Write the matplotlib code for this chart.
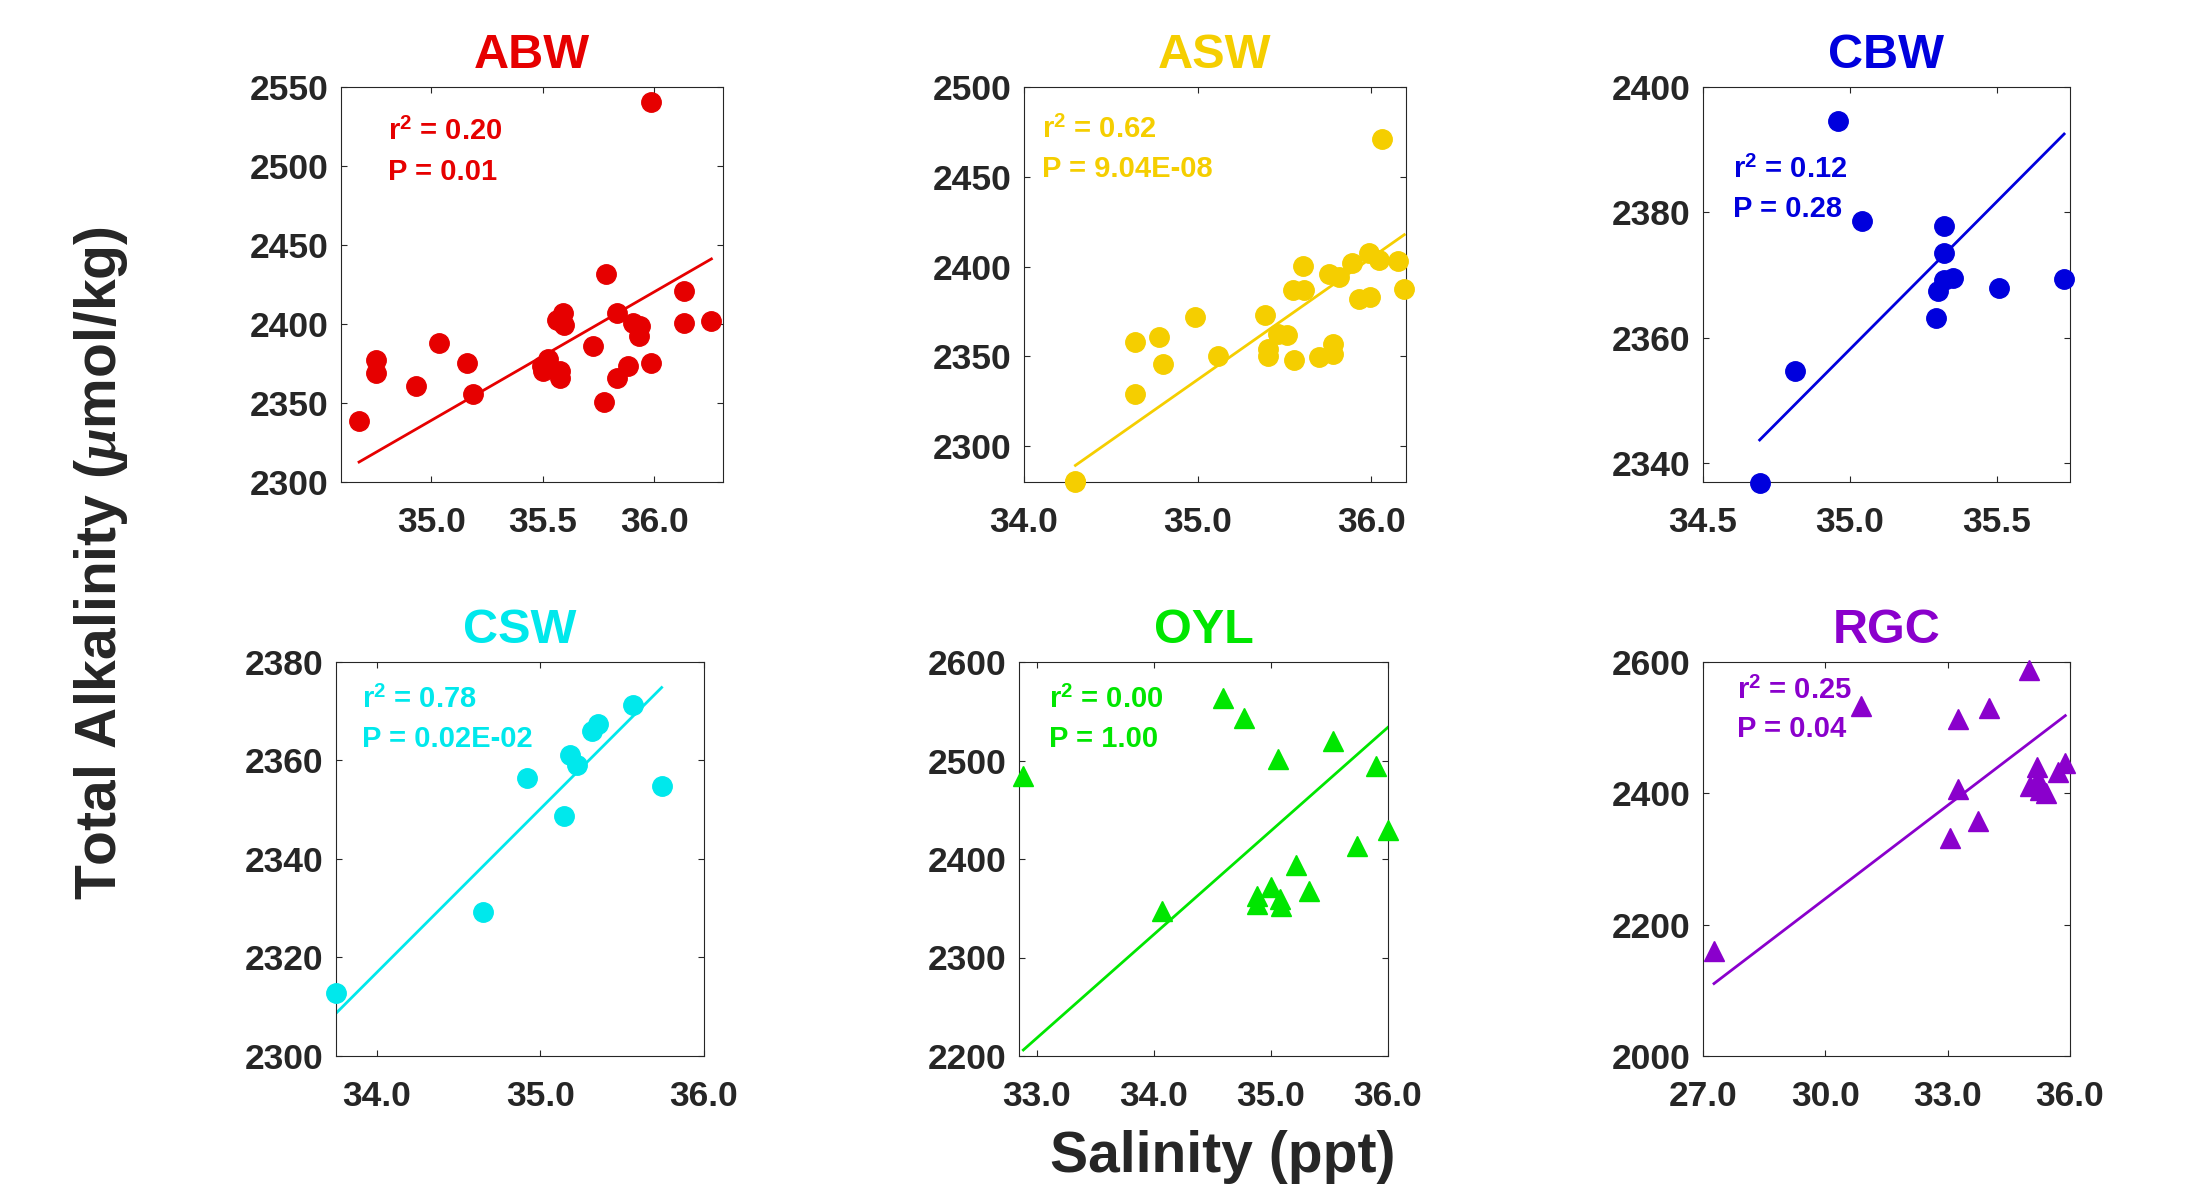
import numpy as np
import matplotlib
matplotlib.use("Agg")
import matplotlib.pyplot as plt

plt.rcParams['font.family'] = ['Liberation Sans', 'DejaVu Sans']
plt.rcParams['font.weight'] = 'bold'
plt.rcParams['mathtext.fontset'] = 'custom'
plt.rcParams['mathtext.rm'] = 'Liberation Sans:bold'
plt.rcParams['mathtext.bf'] = 'Liberation Sans:bold'
plt.rcParams['mathtext.it'] = 'Liberation Serif:italic'

# ---------------- data ----------------
names = ["ABW", "ASW", "CBW", "CSW", "OYL", "RGC"]
colors = ["#E60000", "#F5CE00", "#0000DD", "#00E8EC", "#00E600", "#8A00CC"]
markers = ["o", "o", "o", "o", "^", "^"]

abw_sal = [35.987, 35.782, 36.134, 36.134, 36.256, 35.833, 35.564, 35.589, 35.593, 35.903,
           35.934, 35.930, 35.723, 35.985, 35.880, 35.831, 35.773, 35.522, 35.496, 35.501,
           35.578, 35.578, 35.160, 35.187, 35.036, 34.930, 34.752, 34.752, 34.676]
abw_ta = [2540.2, 2431.7, 2420.9, 2400.6, 2401.9, 2406.8, 2402.7, 2406.8, 2399.6, 2400.6,
          2398.9, 2392.2, 2386.3, 2375.1, 2373.6, 2365.8, 2350.5, 2377.6, 2373.2, 2370.0,
          2370.0, 2365.8, 2375.3, 2355.6, 2388.0, 2360.9, 2377.0, 2368.9, 2338.5]

asw_sal = [36.060, 36.155, 36.190, 35.988, 36.046, 35.887, 35.927, 35.994, 35.758, 35.812,
           35.608, 35.547, 35.610, 35.388, 35.464, 35.514, 35.403, 35.407, 35.557, 35.697,
           35.781, 35.781, 34.987, 35.117, 34.775, 34.798, 34.637, 34.637, 34.296, 34.296]
asw_ta = [2471.0, 2403.2, 2387.7, 2407.8, 2403.9, 2401.9, 2381.7, 2383.2, 2395.7, 2394.4,
          2400.2, 2387.1, 2387.1, 2373.1, 2362.6, 2362.1, 2354.2, 2349.9, 2347.9, 2349.6,
          2356.8, 2351.4, 2372.0, 2350.1, 2360.6, 2345.8, 2357.8, 2328.8, 2279.9, 2280.8]

cbw_sal = [34.960, 35.042, 35.321, 35.321, 35.353, 35.321, 35.300, 35.292, 35.509, 35.730,
           34.812, 34.693]
cbw_ta = [2394.5, 2378.6, 2377.9, 2373.5, 2369.5, 2369.2, 2367.4, 2363.1, 2368.0, 2369.3,
          2354.7, 2336.9]

csw_sal = [35.563, 35.353, 35.316, 35.178, 35.224, 34.918, 35.741, 35.143, 34.651, 33.751]
csw_ta = [2371.3, 2367.5, 2365.9, 2361.2, 2359.1, 2356.4, 2354.8, 2348.7, 2329.2, 2312.8]

oyl_sal = [34.592, 34.772, 35.533, 35.057, 35.895, 32.887, 35.998, 35.739, 35.217, 35.325,
           35.003, 34.883, 34.883, 35.077, 35.083, 34.070]
oyl_ta = [2563.1, 2542.7, 2519.7, 2501.7, 2494.2, 2484.1, 2429.8, 2412.9, 2394.2, 2367.1,
          2371.5, 2362.0, 2354.6, 2359.3, 2352.5, 2346.8]

rgc_sal = [34.984, 30.885, 34.025, 33.246, 35.885, 35.189, 35.705, 35.213, 35.025, 35.254,
           35.418, 33.246, 33.754, 33.057, 27.270]
rgc_ta = [2587.8, 2533.0, 2530.5, 2512.7, 2446.7, 2440.6, 2433.0, 2421.3, 2411.2, 2405.1,
          2400.0, 2406.1, 2358.4, 2332.5, 2159.9]

salinity = [abw_sal, asw_sal, cbw_sal, csw_sal, oyl_sal, rgc_sal]
alkalinity = [abw_ta, asw_ta, cbw_ta, csw_ta, oyl_ta, rgc_ta]

fit_slope = [81.36, 67.84, 47.06, 33.22, 105.24, 47.36]
fit_intercept = [-508.6, -37.4, 711.05, 1187.5, -1254.9, 818.8]

r2_text = ["0.20", "0.62", "0.12", "0.78", "0.00", "0.25"]
p_text = ["0.01", "9.04E-08", "0.28", "0.02E-02", "1.00", "0.04"]

xlims = [(34.595, 36.308), (34.0, 36.2), (34.5, 35.75), (33.75, 36.0), (32.85, 36.0), (27.0, 36.0)]
ylims = [(2300, 2550), (2280, 2500), (2337, 2400), (2300, 2380), (2200, 2600), (2000, 2600)]
xticks = [[35.0, 35.5, 36.0], [34.0, 35.0, 36.0], [34.5, 35.0, 35.5], [34.0, 35.0, 36.0],
          [33.0, 34.0, 35.0, 36.0], [27.0, 30.0, 33.0, 36.0]]
yticks = [[2300, 2350, 2400, 2450, 2500, 2550], [2300, 2350, 2400, 2450, 2500],
          [2340, 2360, 2380, 2400], [2300, 2320, 2340, 2360, 2380],
          [2200, 2300, 2400, 2500, 2600], [2000, 2200, 2400, 2600]]

# ---------------- layout ----------------
W, H = 2206, 1187
fig = plt.figure(figsize=(W / 100, H / 100), dpi=100)

# pixel boxes (left, top, right, bottom)
boxes = [(341, 87, 723, 482), (1024, 87, 1406, 482), (1703, 87, 2070, 482),
         (336, 662, 704, 1056), (1019, 662, 1388, 1056), (1703, 662, 2070, 1056)]
text_pos = [(0.122, 0.866, 0.765), (0.046, 0.871, 0.773), (0.082, 0.769, 0.670),
            (0.070, 0.883, 0.785), (0.081, 0.883, 0.785), (0.093, 0.907, 0.810)]

tick_color = "#262626"
for i in range(6):
    l, t, r, b = boxes[i]
    ax = fig.add_axes([l / W, 1 - b / H, (r - l) / W, (b - t) / H])
    c = colors[i]
    x = np.array(salinity[i])
    y = np.array(alkalinity[i])
    ax.plot(x, y, linestyle='none', marker=markers[i], ms=14, color=c, mec=c,
            clip_on=False, zorder=3)
    xx = np.array([x.min(), x.max()])
    ax.plot(xx, fit_slope[i] * xx + fit_intercept[i], color=c, lw=2.0, zorder=2)
    ax.set_xlim(*xlims[i])
    ax.set_ylim(*ylims[i])
    ax.set_xticks(xticks[i])
    ax.set_xticklabels(["%.1f" % v for v in xticks[i]])
    ax.set_yticks(yticks[i])
    ax.set_yticklabels(["%d" % v for v in yticks[i]])
    ax.tick_params(direction='in', length=4, width=0.8, top=True, right=True,
                   labelsize=25.5, colors=tick_color)
    ax.tick_params(axis='x', pad=17)
    ax.tick_params(axis='y', pad=9)
    for lab in ax.get_xticklabels() + ax.get_yticklabels():
        lab.set_fontweight('bold')
    for sp in ax.spines.values():
        sp.set_color(tick_color)
        sp.set_linewidth(0.8)
    ax.set_title(names[i], color=c, fontsize=35, fontweight='bold', pad=14)
    tx, ty1, ty2 = text_pos[i]
    ax.text(tx, ty1, r"r$^{2}$ = " + r2_text[i], transform=ax.transAxes, color=c,
            fontsize=21, fontweight='bold', va='baseline', ha='left')
    ax.text(tx, ty2, "P = " + p_text[i], transform=ax.transAxes, color=c,
            fontsize=21, fontweight='bold', va='baseline', ha='left')

fig.text(101 / W, 1 - 563 / H, r"Total Alkalinity ($\mu$mol/kg)", rotation=90,
         ha='center', va='center', fontsize=41, fontweight='bold', color=tick_color)
fig.text(1223 / W, 1 - 1157 / H, "Salinity (ppt)", ha='center', va='center',
         fontsize=41, fontweight='bold', color=tick_color)

fig.savefig("out.png", dpi=100, facecolor='white')
